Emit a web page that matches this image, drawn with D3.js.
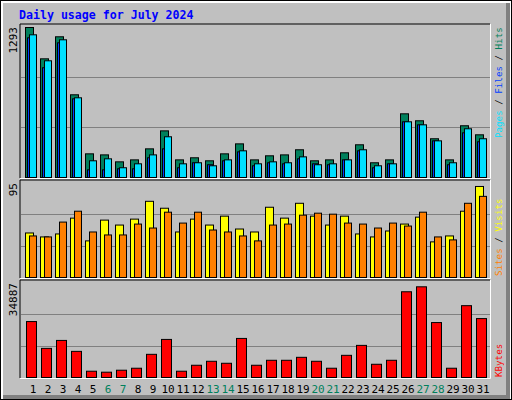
<!DOCTYPE html>
<html><head><meta charset="utf-8">
<script src="https://cdnjs.cloudflare.com/ajax/libs/d3/7.8.5/d3.min.js"></script>
<style>body{margin:0;background:#fff}svg{display:block}</style>
</head><body><svg id="c" width="512" height="400"></svg>
<script>
const days = d3.range(1,32);
const weekend = [6,7,13,14,20,21,27,28];
const hits  = [1293,1023,1213,713,204,195,135,152,247,402,152,170,144,204,290,152,187,195,239,144,152,213,282,127,152,549,489,334,152,446,368];
const files = [1230,1006,1187,687,144,161,84,118,195,351,118,127,101,152,230,118,135,127,178,110,118,152,239,101,118,480,454,316,127,420,334];
const pages = [1204,946,1161,678,66,66,75,75,170,247,84,127,110,144,221,101,127,118,161,118,110,152,230,84,118,480,454,316,110,385,308];
const visits= [45,41,44,60,37,58,53,59,77,70,46,59,53,62,49,46,71,60,75,62,53,62,44,41,47,54,61,36,42,67,92];
const sites = [42,41,56,67,46,43,43,54,50,66,55,66,48,46,42,37,53,54,63,65,64,55,54,50,55,52,66,41,38,75,82];
const kbytes= [20760,10810,13760,9700,2330,1970,2700,3440,8600,14130,2330,4545,6020,5280,14500,4545,6390,6390,7490,6020,3440,8230,11920,4910,6390,31820,33660,20390,3440,26660,21870];
const maxHits=1293, maxVisits=95, maxK=34887;

const svg=d3.select("#c");
const mono="'DejaVu Sans Mono', monospace";
svg.append("rect").attr("x",0).attr("y",0).attr("width",512).attr("height",400).attr("fill","#000");
svg.append("rect").attr("x",1).attr("y",1).attr("width",510).attr("height",398).attr("fill","#fff");
svg.append("rect").attr("x",3).attr("y",3).attr("width",507).attr("height",396).attr("fill","#808080");
svg.append("rect").attr("x",3).attr("y",3).attr("width",503).attr("height",392).attr("fill","#c0c0c0");
svg.append("text").attr("x",19).attr("y",19).attr("font-family",mono).attr("font-weight","bold")
  .attr("font-size",11.6).attr("fill","#0000ff").text("Daily usage for July 2024");

const x=d3.scaleBand().domain(days).range([25,490]).padding(0);
const panels=[{t:25,b:177},{t:181,b:277},{t:281,b:377}];
panels.forEach(p=>{
  svg.append("path").attr("d",`M20,${p.b+1}V${p.t-1}H490`).attr("stroke","#000").attr("fill","none");
  svg.append("path").attr("d",`M490.5,${p.t-1}V${p.b+1.5}H20`).attr("stroke","#fff").attr("fill","none");
});
function grid(y){[1/3,2/3].forEach(f=>{const yy=Math.round(y(y.domain()[1]*f))+0.5;
  svg.append("line").attr("x1",21).attr("x2",490).attr("y1",yy).attr("y2",yy).attr("stroke","#808080");});}

const y1=d3.scaleLinear().domain([0,maxHits]).range([panels[0].b,panels[0].t+2]);
const y2=d3.scaleLinear().domain([0,maxVisits]).range([panels[1].b,panels[1].t+2]);
const y3=d3.scaleLinear().domain([0,maxK]).range([panels[2].b,panels[2].t+2]);
grid(y1);grid(y2);grid(y3);

function bars(data,y,dx,w,fill){
  svg.append("g").selectAll("rect").data(data).join("rect")
    .attr("x",(d,i)=>x(days[i])+dx+0.5).attr("y",d=>y(d)+0.5)
    .attr("width",w).attr("height",d=>y(0)-y(d)).attr("fill",fill).attr("stroke","#000");
}
bars(hits,y1,0,8,"#00805c");
bars(pages,y1,2,5,"#0040ff");
bars(files,y1,4,7,"#00e0ff");
bars(visits,y2,0,8,"#ffff00");
bars(sites,y2,4,7,"#ff8000");
bars(kbytes,y3,1,10,"#ff0000");

svg.append("g").selectAll("text").data(days).join("text")
  .attr("x",d=>x(d)+8).attr("y",393).attr("text-anchor","middle")
  .attr("font-family",mono).attr("font-size",11)
  .attr("fill",d=>weekend.includes(d)?"#00805c":"#000").text(d=>d);

[[maxHits,panels[0].t],[maxVisits,panels[1].t],[maxK,panels[2].t]].forEach(([v,t])=>{
  svg.append("text").attr("transform",`translate(17,${t+2}) rotate(-90)`).attr("text-anchor","end")
    .attr("font-family",mono).attr("font-size",11).attr("fill","#000").text(v);
});
function legend(parts,yb){
  const t=svg.append("text").attr("transform",`translate(502,${yb}) rotate(-90)`)
    .attr("font-family",mono).attr("font-size",9.2);
  parts.forEach(([s,c])=>t.append("tspan").attr("fill",c).text(s));
}
legend([["Pages","#00e0ff"],[" / ","#000"],["Files","#0040ff"],[" / ","#000"],["Hits","#00805c"]],138);
legend([["Sites","#ff8000"],[" / ","#000"],["Visits","#ffff00"]],276);
legend([["KBytes","#ff0000"]],377);
</script></body></html>
